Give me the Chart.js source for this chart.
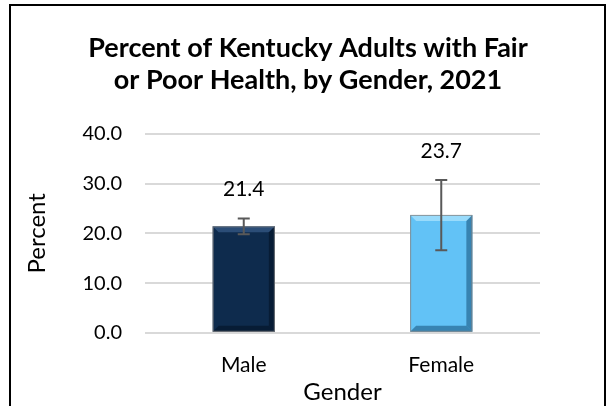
<!DOCTYPE html>
<html>
<head>
<meta charset="utf-8">
<script src="https://cdn.jsdelivr.net/npm/chart.js"></script>
<style>
  html, body { margin: 0; padding: 0; background: #fff; }
  #wrap { width: 616px; height: 406px; position: relative; }
</style>
</head>
<body>
<div id="wrap"><canvas id="healthChart" width="616" height="406"></canvas></div>
<script>
// Percent of Kentucky adults with fair or poor health, by gender, 2021
const genders = ['Male', 'Female'];
const percentValues = [21.4, 23.7];
const ciLower = [19.8, 16.6];
const ciUpper = [23.0, 30.7];
const yTicks = [0, 10, 20, 30, 40];

const FONT = 'Lato, "Open Sans", sans-serif';

// Outer frame around the whole chart
const framePlugin = {
    id: 'frame',
    afterDraw: function(chart) {
        const ctx = chart.ctx;
        ctx.save();
        ctx.strokeStyle = '#000';
        ctx.lineWidth = 2;
        ctx.strokeRect(10, 5, chart.width - 21, chart.height + 10);
        ctx.restore();
    }
};

// Bevel effect, error bars and value labels on top of the bars
const barExtrasPlugin = {
    id: 'barExtras',
    afterDatasetsDraw: function(chart) {
        const ctx = chart.ctx;
        const yScale = chart.scales.y;
        const meta = chart.getDatasetMeta(0);
        const bevelLight = ['rgba(80,120,170,0.45)', 'rgba(190,235,255,0.6)'];
        const bevelDark = ['rgba(0,10,25,0.45)', 'rgba(20,80,120,0.55)'];
        ctx.save();
        meta.data.forEach(function(bar, i) {
            const left = bar.x - bar.width / 2;
            const right = bar.x + bar.width / 2;
            const top = bar.y;
            const bottom = bar.base;
            const b = 6;
            // top bevel
            ctx.fillStyle = bevelLight[i];
            ctx.beginPath();
            ctx.moveTo(left, top); ctx.lineTo(right, top);
            ctx.lineTo(right - b, top + b); ctx.lineTo(left + b, top + b);
            ctx.closePath(); ctx.fill();
            // bottom bevel
            ctx.fillStyle = bevelDark[i];
            ctx.beginPath();
            ctx.moveTo(left, bottom); ctx.lineTo(right, bottom);
            ctx.lineTo(right - b, bottom - b); ctx.lineTo(left + b, bottom - b);
            ctx.closePath(); ctx.fill();
            // right bevel
            ctx.beginPath();
            ctx.moveTo(right, top); ctx.lineTo(right, bottom);
            ctx.lineTo(right - b, bottom - b); ctx.lineTo(right - b, top + b);
            ctx.closePath(); ctx.fill();
            // outline
            ctx.strokeStyle = 'rgba(130,130,130,0.8)';
            ctx.lineWidth = 1;
            ctx.strokeRect(left + 0.5, top + 0.5, bar.width - 1, bottom - top - 1);

            // error bar
            const yHi = yScale.getPixelForValue(ciUpper[i]);
            const yLo = yScale.getPixelForValue(ciLower[i]);
            ctx.strokeStyle = '#595959';
            ctx.lineWidth = 2;
            ctx.beginPath();
            ctx.moveTo(bar.x, yHi); ctx.lineTo(bar.x, yLo);
            ctx.moveTo(bar.x - 6, yHi); ctx.lineTo(bar.x + 6, yHi);
            ctx.moveTo(bar.x - 6, yLo); ctx.lineTo(bar.x + 6, yLo);
            ctx.stroke();

            // value label above the error bar
            ctx.fillStyle = '#000';
            ctx.font = '21px ' + FONT;
            ctx.textAlign = 'center';
            ctx.textBaseline = 'middle';
            ctx.fillText(percentValues[i].toFixed(1), bar.x, yHi - 29);
        });
        ctx.restore();
    }
};

function barFill(context) {
    const chart = context.chart;
    const el = context.element;
    if (!el || !el.width) return context.dataIndex === 0 ? '#0e2b4d' : '#62c2f6';
    const l = el.x - el.width / 2;
    const r = el.x + el.width / 2;
    const g = chart.ctx.createLinearGradient(l, 0, r, 0);
    if (context.dataIndex === 0) {
        g.addColorStop(0, '#0b2544');
        g.addColorStop(0.5, '#0f2d50');
        g.addColorStop(1, '#0b2544');
    } else {
        g.addColorStop(0, '#5cbdf3');
        g.addColorStop(0.5, '#66c4f7');
        g.addColorStop(1, '#5cbdf3');
    }
    return g;
}

const ctx = document.getElementById('healthChart').getContext('2d');
const healthChart = new Chart(ctx, {
    type: 'bar',
    data: {
        labels: genders,
        datasets: [{
            label: 'Percent',
            data: percentValues,
            backgroundColor: barFill,
            borderWidth: 0,
            categoryPercentage: 1,
            barPercentage: 0.315
        }]
    },
    options: {
        responsive: false,
        animation: false,
        devicePixelRatio: 1,
        layout: {
            padding: { left: 0, right: 0, top: 0, bottom: 2 }
        },
        scales: {
            x: {
                grid: { display: false, drawTicks: false },
                border: { display: false },
                ticks: { color: '#000', font: { family: FONT, size: 21, lineHeight: 1.2 }, padding: 20 },
                title: {
                    display: true, text: 'Gender', color: '#000',
                    font: { family: FONT, size: 24, lineHeight: 1.0 }, padding: { top: -18, bottom: 0 }
                }
            },
            y: {
                min: 0,
                max: 40,
                afterFit: function(scale) { scale.width = 145; },
                afterBuildTicks: function(scale) {
                    scale.ticks = yTicks.map(function(v) { return { value: v }; });
                },
                grid: { color: '#d9d9d9', lineWidth: 2, drawTicks: false },
                border: { display: false },
                ticks: {
                    color: '#000',
                    font: { family: FONT, size: 20 },
                    padding: 23,
                    callback: function(value) { return value.toFixed(1); }
                },
                title: {
                    display: true, text: 'Percent', color: '#000',
                    font: { family: FONT, size: 24, lineHeight: 1.0 }, padding: { top: 25, bottom: 0 }
                }
            },
            // empty right-hand axis that only reserves the margin right of the plot
            yRight: {
                position: 'right',
                afterFit: function(scale) { scale.width = 76; },
                grid: { display: false, drawTicks: false },
                border: { display: false },
                ticks: { display: false }
            }
        },
        plugins: {
            legend: { display: false },
            tooltip: { enabled: false },
            title: {
                display: true,
                text: ['Percent of Kentucky Adults with Fair', 'or Poor Health, by Gender, 2021'],
                color: '#000',
                font: { family: FONT, size: 27, weight: 'bold', lineHeight: 1.2 },
                padding: { top: 32, bottom: 37 }
            }
        }
    },
    plugins: [framePlugin, barExtrasPlugin]
});
</script>
</body>
</html>
